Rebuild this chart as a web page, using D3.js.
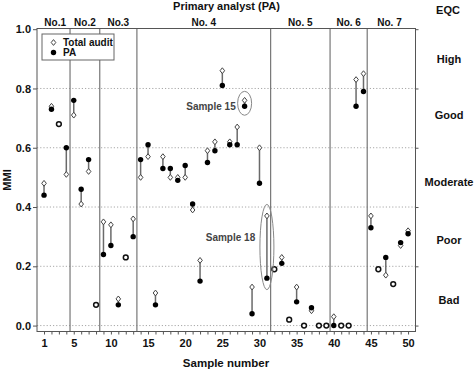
<!DOCTYPE html>
<html><head><meta charset="utf-8">
<script src="https://cdn.jsdelivr.net/npm/d3@7/dist/d3.min.js"></script>
<style>
html,body{margin:0;padding:0;background:#fff;}
svg{display:block;font-family:"Liberation Sans",Arial,sans-serif;font-weight:bold;}
</style></head>
<body>
<svg id="chart" width="474" height="369"></svg>
<script>
// ---- data ----
const sampleNumbers = [1,2,3,4,5,6,7,8,9,10,11,12,13,14,15,16,17,18,19,20,21,22,23,24,25,26,27,28,29,30,31,32,33,34,35,36,37,38,39,40,41,42,43,44,45,46,47,48,49,50];
const totalAudit = [0.48,0.74,0.68,0.51,0.71,0.41,0.52,0.07,0.35,0.34,0.09,0.23,0.36,0.50,0.57,0.11,0.57,0.50,0.50,0.50,0.39,0.22,0.59,0.62,0.86,0.62,0.67,0.76,0.13,0.60,0.37,0.19,0.23,0.02,0.13,0.00,0.05,0.00,0.00,0.03,0.00,0.00,0.83,0.85,0.37,0.19,0.17,0.14,0.27,0.32];
const primaryAnalyst = [0.44,0.73,0.68,0.60,0.76,0.46,0.56,0.07,0.24,0.27,0.07,0.23,0.30,0.56,0.61,0.07,0.53,0.53,0.49,0.54,0.41,0.15,0.55,0.59,0.81,0.61,0.61,0.74,0.04,0.48,0.16,0.19,0.21,0.02,0.08,0.00,0.06,0.00,0.00,0.00,0.00,0.00,0.74,0.79,0.33,0.19,0.23,0.14,0.28,0.31];
const analystNames = ["No.1","No.2","No.3","No. 4","No. 5","No. 6","No. 7"];
const analystBounds = [0.5,4.5,8.5,13.5,31.5,39.5,44.5,50.5];
const xTickLabels = [1,5,10,15,20,25,30,35,40,45,50];
const yTickValues = [0,0.2,0.4,0.6,0.8,1.0];
const eqcLabels = ["High","Good","Moderate","Poor","Bad"];
const eqcBandCenters = [0.9,0.71,0.485,0.29,0.085];
const annotations = [{sample:28,label:"Sample 15"},{sample:31,label:"Sample 18"}];

// ---- layout ----
const svg = d3.select("#chart");
const L = 37, R = 415.5, T = 28.5, B = 331.5;
const x = d3.scaleLinear().domain([0,51]).range([36.6,415.5]);
const y = d3.scaleLinear().domain([-0.02,1.0]).range([B,29.2]);
const axisColor = "#555";

// gridlines
svg.append("g").selectAll("line").data(yTickValues.filter(v=>v<1)).join("line")
  .attr("x1",L).attr("x2",R).attr("y1",d=>y(d)).attr("y2",d=>y(d))
  .attr("stroke","#a8a8a8").attr("stroke-width",1).attr("stroke-dasharray","1.2,2");

// separators
svg.append("g").selectAll("line").data(analystBounds.slice(1,-1)).join("line")
  .attr("x1",d=>x(d)).attr("x2",d=>x(d)).attr("y1",T).attr("y2",B)
  .attr("stroke","#777").attr("stroke-width",1.2);

// frame
svg.append("rect").attr("x",L).attr("y",T).attr("width",R-L).attr("height",B-T)
  .attr("fill","none").attr("stroke",axisColor).attr("stroke-width",1);

// y axis left
const yAxis = d3.axisLeft(y).tickValues(yTickValues).tickFormat(d3.format(".1f")).tickSize(4).tickPadding(2);
const gy = svg.append("g").attr("transform",`translate(${L},0)`).call(yAxis);
gy.select(".domain").remove();
gy.selectAll("line").attr("stroke",axisColor);
gy.selectAll("text").attr("font-size",11).attr("font-weight","bold").attr("fill","#111").attr("font-family","Liberation Sans, Arial, sans-serif");

// y axis right ticks
const gyr = svg.append("g").attr("transform",`translate(${R},0)`).call(d3.axisRight(y).tickValues(yTickValues).tickSize(3).tickFormat(""));
gyr.select(".domain").remove();
gyr.selectAll("line").attr("stroke",axisColor);

// x axis
const xAxis = d3.axisBottom(x).tickValues(sampleNumbers).tickSize(3).tickPadding(5)
  .tickFormat(d=>xTickLabels.includes(d)?d:"");
const gx = svg.append("g").attr("transform",`translate(0,${B})`).call(xAxis);
gx.select(".domain").remove();
gx.selectAll("line").attr("stroke",axisColor);
gx.selectAll("text").attr("font-size",11).attr("font-weight","bold").attr("fill","#111").attr("font-family","Liberation Sans, Arial, sans-serif");

// axis titles
svg.append("text").attr("x",226).attr("y",366.5).attr("text-anchor","middle").attr("font-size",11.5).attr("fill","#111").text("Sample number");
svg.append("text").attr("transform","translate(11,180) rotate(-90)").attr("text-anchor","middle").attr("font-size",11).attr("fill","#111").text("MMI");
svg.append("text").attr("x",226.5).attr("y",9.5).attr("text-anchor","middle").attr("font-size",11).attr("fill","#111").text("Primary analyst (PA)");

// analyst group labels
svg.append("g").selectAll("text").data(analystNames).join("text")
  .attr("x",(d,i)=>x((analystBounds[i]+analystBounds[i+1])/2)).attr("y",26)
  .attr("text-anchor","middle").attr("font-size",10).attr("fill","#111").text(d=>d);

// EQC labels
svg.append("text").attr("x",448).attr("y",13.5).attr("text-anchor","middle").attr("font-size",11).attr("fill","#111").text("EQC");
svg.append("g").selectAll("text").data(eqcLabels).join("text")
  .attr("x",449).attr("y",(d,i)=>y(eqcBandCenters[i])+4)
  .attr("text-anchor","middle").attr("font-size",11).attr("fill","#111").text(d=>d);

// marks
const pts = sampleNumbers.map((s,i)=>({s,ta:totalAudit[i],pa:primaryAnalyst[i]}));
const diamond = "M0,-2.9L2.3,0L0,2.9L-2.3,0Z";
const marks = svg.append("g");
marks.selectAll("line").data(pts.filter(d=>d.ta!==d.pa)).join("line")
  .attr("x1",d=>x(d.s)).attr("x2",d=>x(d.s)).attr("y1",d=>y(d.ta)).attr("y2",d=>y(d.pa))
  .attr("stroke","#6a6a6a").attr("stroke-width",1.5);
marks.selectAll("path.ta").data(pts.filter(d=>d.ta!==d.pa)).join("path").attr("class","ta")
  .attr("d",diamond).attr("transform",d=>`translate(${x(d.s)},${y(d.ta)})`)
  .attr("fill","#fff").attr("stroke","#444").attr("stroke-width",1);
marks.selectAll("circle.pa").data(pts.filter(d=>d.ta!==d.pa)).join("circle").attr("class","pa")
  .attr("cx",d=>x(d.s)).attr("cy",d=>y(d.pa)).attr("r",2.7).attr("fill","#000");
marks.selectAll("circle.eq").data(pts.filter(d=>d.ta===d.pa)).join("circle").attr("class","eq")
  .attr("cx",d=>x(d.s)).attr("cy",d=>y(d.pa)).attr("r",2.4).attr("fill","#fff").attr("stroke","#111").attr("stroke-width",1.5);

// annotations
annotations.forEach((a,k)=>{
  const p = pts[a.sample-1];
  const y1 = y(Math.max(p.ta,p.pa)), y2 = y(Math.min(p.ta,p.pa));
  const cy = (y1+y2)/2, ry = (y2-y1)/2 + (k===0?9:11.5);
  svg.append("ellipse").attr("cx",x(a.sample)).attr("cy",cy).attr("rx",7).attr("ry",ry)
    .attr("fill","none").attr("stroke","#888").attr("stroke-width",1);
});
svg.append("text").attr("x",211).attr("y",110).attr("text-anchor","middle").attr("font-size",10).attr("fill","#444").text(annotations[0].label);
svg.append("text").attr("x",230.5).attr("y",241).attr("text-anchor","middle").attr("font-size",10).attr("fill","#444").text(annotations[1].label);

// legend
const lg = svg.append("g");
lg.append("rect").attr("x",42).attr("y",34).attr("width",72).attr("height",26).attr("fill","#fff").attr("stroke","#666").attr("stroke-width",1);
lg.append("path").attr("d",diamond).attr("transform","translate(53.5,42.5)").attr("fill","#fff").attr("stroke","#444");
lg.append("circle").attr("cx",53.5).attr("cy",52.5).attr("r",2.7).attr("fill","#000");
lg.append("text").attr("x",63).attr("y",46).attr("font-size",10).attr("fill","#111").text("Total audit");
lg.append("text").attr("x",63).attr("y",56).attr("font-size",10).attr("fill","#111").text("PA");
</script>
</body></html>
